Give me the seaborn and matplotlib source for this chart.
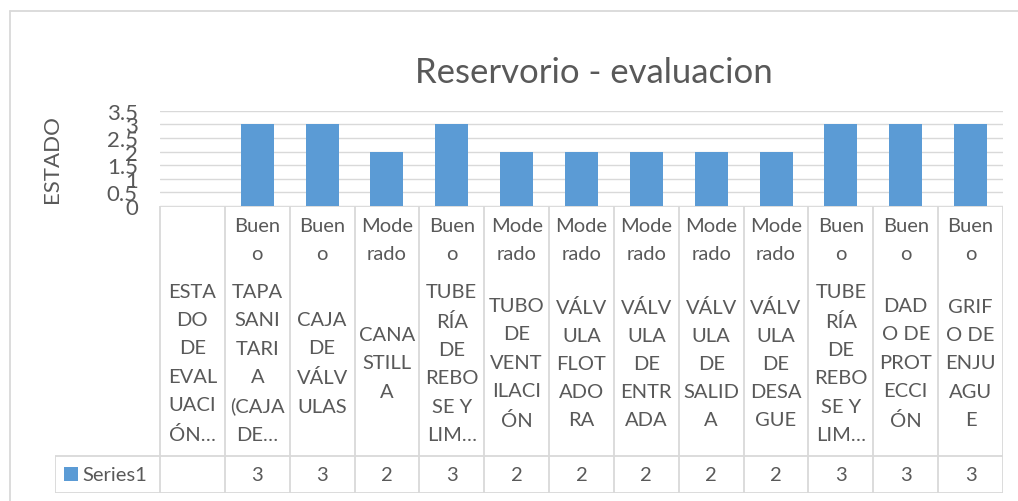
import numpy as np
import pandas as pd
import matplotlib
matplotlib.use("Agg")
import matplotlib.pyplot as plt
from matplotlib.lines import Line2D
from matplotlib.patches import Rectangle
import seaborn as sns

# data
categories = [
    "ESTA\nDO\nDE\nEVAL\nUACI\nÓN…",
    "TAPA\nSANI\nTARI\nA\n(CAJA\nDE…",
    "CAJA\nDE\nVÁLV\nULAS",
    "CANA\nSTILL\nA",
    "TUBE\nRÍA\nDE\nREBO\nSE Y\nLIM…",
    "TUBO\nDE\nVENT\nILACI\nÓN",
    "VÁLV\nULA\nFLOT\nADO\nRA",
    "VÁLV\nULA\nDE\nENTR\nADA",
    "VÁLV\nULA\nDE\nSALID\nA",
    "VÁLV\nULA\nDE\nDESA\nGUE",
    "TUBE\nRÍA\nDE\nREBO\nSE Y\nLIM…",
    "DAD\nO DE\nPROT\nECCI\nÓN",
    "GRIF\nO DE\nENJU\nAGU\nE",
]
status = ["", "Buen\no", "Buen\no", "Mode\nrado", "Buen\no", "Mode\nrado", "Mode\nrado",
          "Mode\nrado", "Mode\nrado", "Mode\nrado", "Buen\no", "Buen\no", "Buen\no"]
values = [np.nan, 3, 3, 2, 3, 2, 2, 2, 2, 2, 3, 3, 3]
series_name = "Series1"
title = "Reservorio - evaluacion"
ylabel = "ESTADO"
yticks = [0, 0.5, 1, 1.5, 2, 2.5, 3, 3.5]

BLUE = "#5B9BD5"
GRID = "#D9D9D9"
TXT = "#595959"
W, H = 1018, 502
FS = 14.5
LS = 1.8

sns.set_theme(style="white")
plt.rcParams['font.family'] = ['Lato', 'DejaVu Sans']

df = pd.DataFrame({"pos": range(len(values)), "value": values})

fig = plt.figure(figsize=(W / 100, H / 100), dpi=100)

# plot area in pixel terms
x0, x1 = 160, 1003
y_top, y_zero = 111.7, 207
colw = (x1 - x0) / len(values)

ax = fig.add_axes([x0 / W, 1 - y_zero / H, (x1 - x0) / W, (y_zero - y_top) / H])
sns.barplot(data=df, x="pos", y="value", order=list(range(len(values))),
            color=BLUE, saturation=1, width=0.51, linewidth=0, ax=ax)
ax.set_ylim(0, 3.5)
ax.set_xlim(-0.5, len(values) - 0.5)
ax.set_yticks(yticks)
ax.set_yticklabels([f"{v:g}" for v in yticks], color=TXT, fontsize=16)
ax.set_xticks([])
ax.set_xlabel("")
ax.set_ylabel(ylabel, color=TXT, fontsize=16)
ax.yaxis.set_label_coords((62 - x0) / (x1 - x0), 0.5)
ax.tick_params(axis="y", length=0, pad=16)
ax.yaxis.grid(True, color=GRID, lw=1)
ax.set_axisbelow(True)
for s in ax.spines.values():
    s.set_visible(False)

# data table below the plot
t_left, t_bottom = 55, 494
row_split = 457
ax_t = fig.add_axes([t_left / W, 1 - t_bottom / H, (x1 - t_left) / W, (t_bottom - y_zero) / H])
xl = -0.5 - (x0 - t_left) / colw
ax_t.set_xlim(xl, len(values) - 0.5)
ax_t.set_ylim(t_bottom, y_zero)
ax_t.axis("off")

def px(xp):
    return (xp - x0) / colw - 0.5

lk = dict(color=GRID, lw=1.3, solid_capstyle="butt")
for k in range(len(values) + 1):
    ax_t.plot([k - 0.5, k - 0.5], [y_zero, t_bottom], **lk)
ax_t.plot([-0.5, len(values) - 0.5], [y_zero, y_zero], **lk)
ax_t.plot([xl, len(values) - 0.5], [row_split, row_split], **lk)
ax_t.plot([xl, len(values) - 0.5], [t_bottom, t_bottom], **lk)
ax_t.plot([xl, xl], [row_split, t_bottom], **lk)

for i, (st, cat, v) in enumerate(zip(status, categories, values)):
    ax_t.text(i, 240.5, st, ha="center", va="center", fontsize=FS, color=TXT, linespacing=LS)
    ax_t.text(i, 364, cat, ha="center", va="center", fontsize=FS, color=TXT, linespacing=LS)
    if not np.isnan(v):
        ax_t.text(i, 475.5, f"{v:g}", ha="center", va="center", fontsize=FS, color=TXT)

ax_t.add_patch(Rectangle((px(64), 468), px(78) - px(64), 14, color=BLUE, lw=0))
ax_t.text(px(82), 475.5, series_name, ha="left", va="center", fontsize=FS, color=TXT)

fig.text(594 / W, 1 - 73 / H, title, ha="center", va="center", fontsize=25, color=TXT)

# chart area border
fig.add_artist(Line2D([10 / W, 10 / W], [0, 1 - 12 / H], transform=fig.transFigure, color=GRID, lw=1.3))
fig.add_artist(Line2D([10 / W, 1], [1 - 12 / H, 1 - 12 / H], transform=fig.transFigure, color=GRID, lw=1.3))

fig.savefig("out.png", dpi=100, facecolor="white")
